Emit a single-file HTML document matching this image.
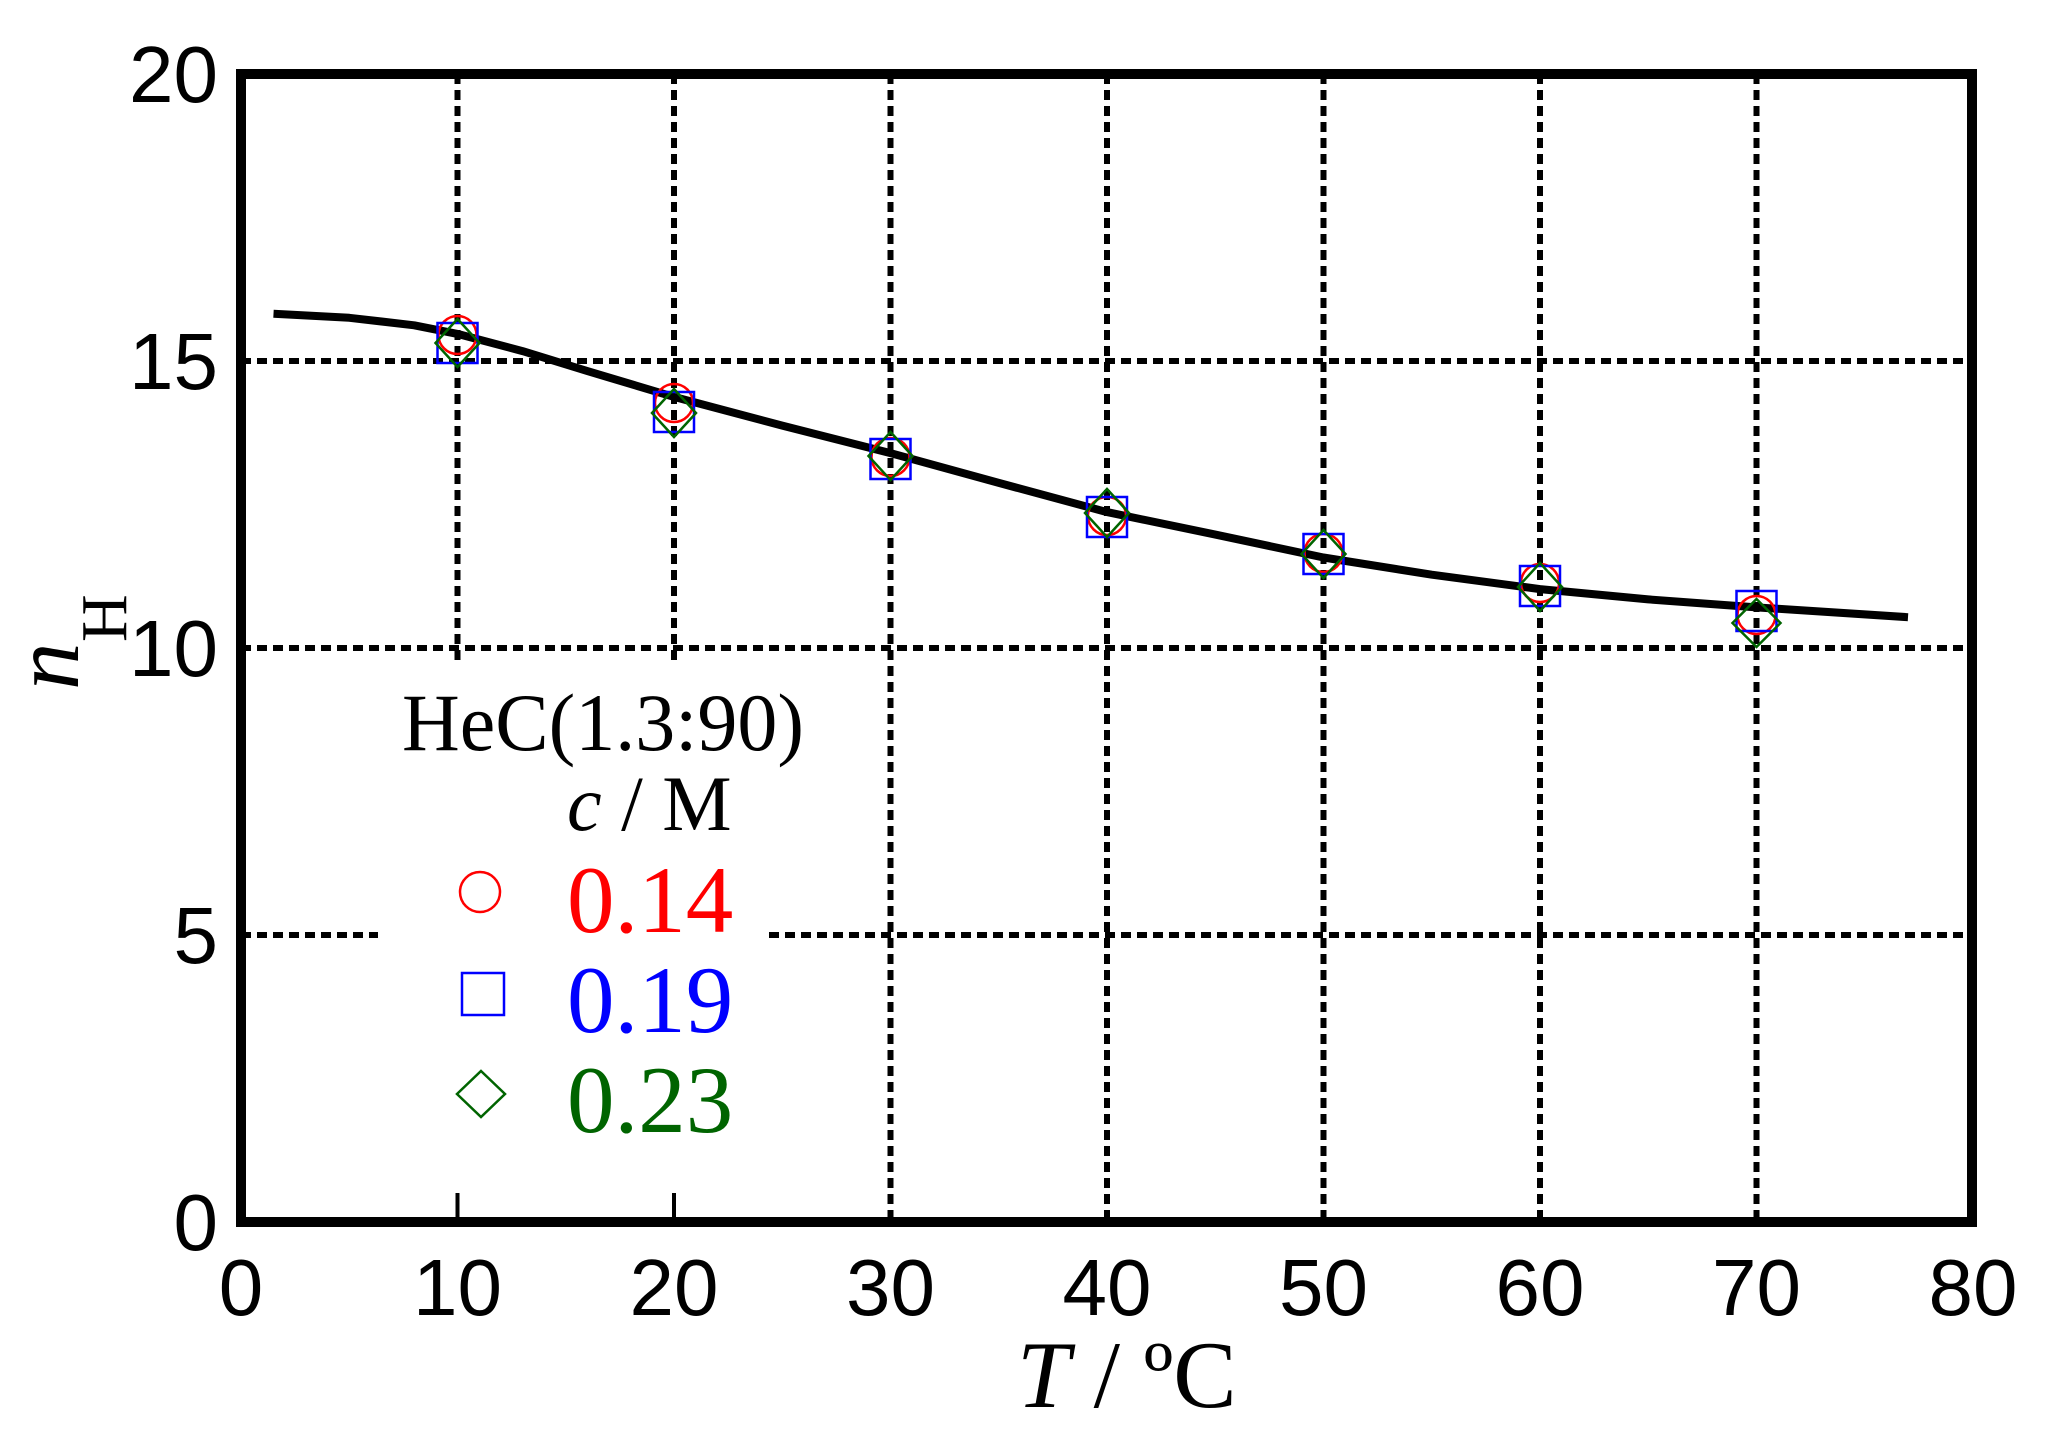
<!DOCTYPE html>
<html><head><meta charset="utf-8"><style>html,body{margin:0;padding:0;background:#fff}svg{display:block}</style></head>
<body>
<svg width="2048" height="1445" viewBox="0 0 2048 1445" xmlns="http://www.w3.org/2000/svg">
<rect width="2048" height="1445" fill="#fff"/>
<g stroke="#000" stroke-width="6" stroke-dasharray="10,6" fill="none">
<line x1="241" y1="361" x2="1972" y2="361"/>
<line x1="241" y1="648" x2="1972" y2="648"/>
<line x1="241" y1="935" x2="1972" y2="935"/>
<line x1="457.5" y1="74" x2="457.5" y2="1222"/>
<line x1="674" y1="74" x2="674" y2="1222"/>
<line x1="890.5" y1="74" x2="890.5" y2="1222"/>
<line x1="1107" y1="74" x2="1107" y2="1222"/>
<line x1="1323.5" y1="74" x2="1323.5" y2="1222"/>
<line x1="1540" y1="74" x2="1540" y2="1222"/>
<line x1="1756.5" y1="74" x2="1756.5" y2="1222"/>
</g>
<rect x="378" y="665" width="388" height="557" fill="#fff"/>
<g stroke="#000" stroke-width="4"><line x1="457.5" y1="1193" x2="457.5" y2="1220"/><line x1="674" y1="1193" x2="674" y2="1220"/></g>
<rect x="241" y="74" width="1731" height="1148" fill="none" stroke="#000" stroke-width="10"/>
<polyline fill="none" stroke="#000" stroke-width="8" stroke-linejoin="round" points="273.5,313.8 349.3,317.8 414.2,325.3 457.5,333.9 522.5,351.1 587.4,371.1 674,396.9 782.3,425.6 890.5,453.1 998.8,482.9 1107,512.1 1215.3,534.6 1323.5,557.5 1431.8,574.7 1540,589.1 1648.3,599.4 1756.5,607.4 1908,617.2"/>
<g fill="none" stroke-width="2.5">
<g stroke="#f00">
<circle cx="457.5" cy="335" r="19"/><circle cx="674" cy="403" r="19"/><circle cx="890.5" cy="457" r="19"/><circle cx="1107" cy="516" r="19"/><circle cx="1323.5" cy="553" r="19"/><circle cx="1540" cy="583" r="19"/><circle cx="1756.5" cy="615" r="19"/>
</g>
<g stroke="#00f">
<rect x="437.5" y="323" width="40" height="40"/><rect x="654" y="392" width="40" height="40"/><rect x="870.5" y="439" width="40" height="40"/><rect x="1087" y="497" width="40" height="40"/><rect x="1303.5" y="534" width="40" height="40"/><rect x="1520" y="566" width="40" height="40"/><rect x="1736.5" y="591" width="40" height="40"/>
</g>
<g stroke="#006400">
<path d="M457.5,319 l22,24 l-22,24 l-22,-24z"/>
<path d="M674,389 l22,24 l-22,24 l-22,-24z"/>
<path d="M890.5,432 l22,24 l-22,24 l-22,-24z"/>
<path d="M1107,489 l22,24 l-22,24 l-22,-24z"/>
<path d="M1323.5,530 l22,24 l-22,24 l-22,-24z"/>
<path d="M1540,563 l22,24 l-22,24 l-22,-24z"/>
<path d="M1756.5,599 l24,24 l-24,24 l-24,-24z"/>
</g>
<circle cx="480" cy="892" r="20" stroke="#f00"/>
<rect x="462" y="973" width="42" height="42" stroke="#00f"/>
<path d="M481,1071 l24,23 l-24,23 l-24,-23z" stroke="#006400"/>
</g>
<g font-family="Liberation Sans, sans-serif" font-size="80" fill="#000">
<g text-anchor="end">
<text x="218" y="102">20</text><text x="218" y="389">15</text><text x="218" y="676">10</text><text x="218" y="963">5</text><text x="218" y="1250">0</text>
</g>
<g text-anchor="middle">
<text x="241" y="1315">0</text><text x="457.5" y="1315">10</text><text x="674" y="1315">20</text><text x="890.5" y="1315">30</text><text x="1107" y="1315">40</text><text x="1323.5" y="1315">50</text><text x="1540" y="1315">60</text><text x="1756.5" y="1315">70</text><text x="1973" y="1315">80</text>
</g>
</g>
<g font-family="Liberation Serif, serif" fill="#000">
<text x="1017" y="1407" font-size="95"><tspan font-style="italic">T</tspan> / ºC</text>
<g transform="translate(78,690) rotate(-90)"><text x="0" y="0" font-size="95" font-style="italic">n</text><text x="48" y="48" font-size="66">H</text></g>
<text x="402" y="750" font-size="82" textLength="402" lengthAdjust="spacingAndGlyphs">HeC(1.3:90)</text>
<text x="567" y="830" font-size="78"><tspan font-style="italic">c</tspan> / M</text>
<text x="567" y="932" font-size="95" fill="#f00">0.14</text>
<text x="567" y="1032" font-size="95" fill="#00f">0.19</text>
<text x="567" y="1132" font-size="95" fill="#006400">0.23</text>
</g>
</svg>
</body></html>
